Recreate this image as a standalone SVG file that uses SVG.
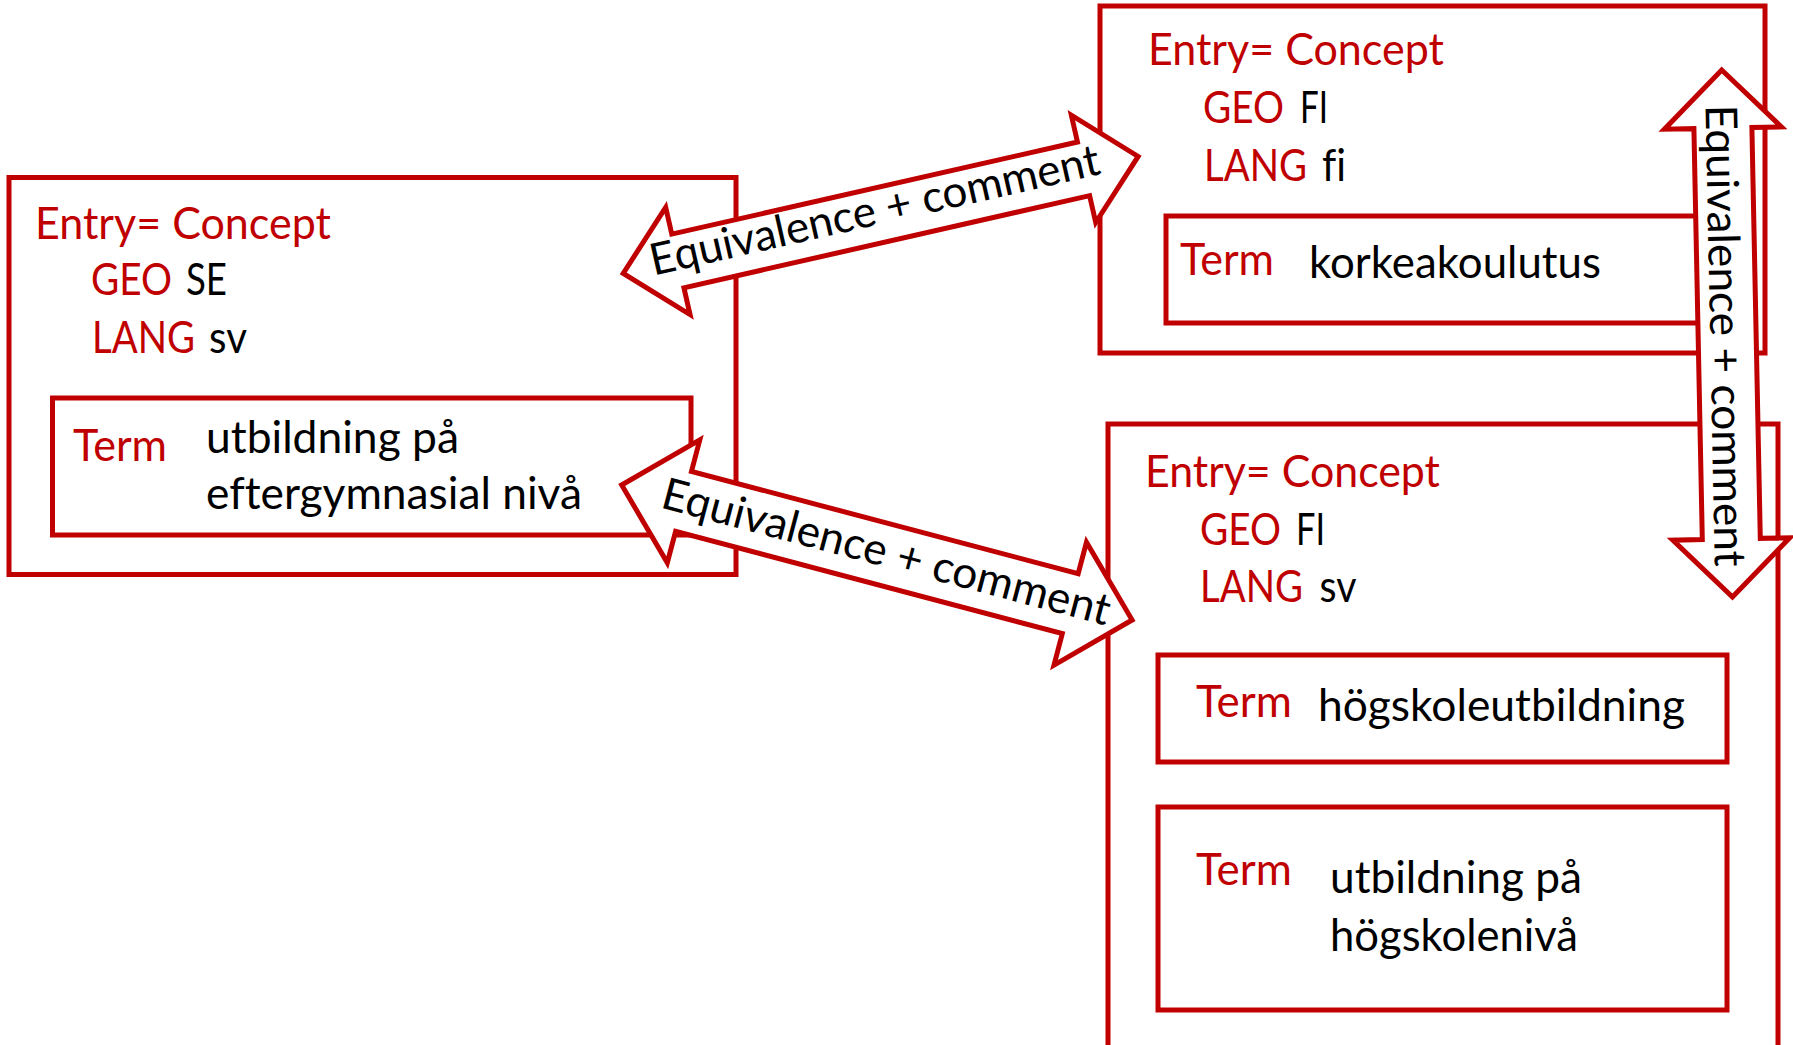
<svg xmlns="http://www.w3.org/2000/svg" width="1793" height="1045" viewBox="0 0 1793 1045">
<style>
  .box { fill: none; stroke: #C00000; stroke-width: 5; }
  .arrow { fill: #FFFFFF; stroke: #C00000; stroke-width: 5; stroke-linejoin: miter; }
  text { font-family: Lato, "Liberation Sans", sans-serif; font-size: 44px; font-variant-ligatures: none; }
  .lbl { fill: #C00000; }
  .val { fill: #000000; }
</style>
<rect width="1793" height="1045" fill="#FFFFFF"/>

<g id="node-se">
  <rect class="box" x="9" y="177.5" width="727" height="397"/>
  <text class="lbl" x="35" y="239" textLength="296" lengthAdjust="spacingAndGlyphs">Entry= Concept</text>
  <text class="lbl" x="91" y="295" textLength="81" lengthAdjust="spacingAndGlyphs">GEO</text>
  <text class="val" x="186" y="295" textLength="41" lengthAdjust="spacingAndGlyphs">SE</text>
  <text class="lbl" x="92" y="353" textLength="103" lengthAdjust="spacingAndGlyphs">LANG</text>
  <text class="val" x="209" y="353" textLength="38" lengthAdjust="spacingAndGlyphs">sv</text>
  <g id="term-se">
    <rect class="box" x="52.5" y="398" width="638.5" height="137"/>
    <text class="lbl" x="73" y="461" textLength="94" lengthAdjust="spacingAndGlyphs">Term</text>
    <text class="val" x="206" y="453" textLength="253" lengthAdjust="spacingAndGlyphs">utbildning på</text>
    <text class="val" x="206" y="509" textLength="376" lengthAdjust="spacingAndGlyphs">eftergymnasial nivå</text>
  </g>
</g>

<g id="node-fi-fi">
  <rect class="box" x="1100" y="6" width="665" height="347"/>
  <text class="lbl" x="1148" y="65" textLength="296" lengthAdjust="spacingAndGlyphs">Entry= Concept</text>
  <text class="lbl" x="1203" y="123" textLength="81" lengthAdjust="spacingAndGlyphs">GEO</text>
  <text class="val" x="1300" y="123" textLength="28" lengthAdjust="spacingAndGlyphs">FI</text>
  <text class="lbl" x="1204" y="181" textLength="103" lengthAdjust="spacingAndGlyphs">LANG</text>
  <text class="val" x="1322" y="181" textLength="24" lengthAdjust="spacingAndGlyphs">fi</text>
  <g id="term-fi">
    <rect class="box" x="1166" y="216" width="556" height="107"/>
    <text class="lbl" x="1180" y="275" textLength="94" lengthAdjust="spacingAndGlyphs">Term</text>
    <text class="val" x="1309" y="278" textLength="292" lengthAdjust="spacingAndGlyphs">korkeakoulutus</text>
  </g>
</g>

<g id="node-fi-sv">
  <rect class="box" x="1108" y="424" width="670" height="640"/>
  <text class="lbl" x="1145" y="487" textLength="295" lengthAdjust="spacingAndGlyphs">Entry= Concept</text>
  <text class="lbl" x="1200" y="545" textLength="81" lengthAdjust="spacingAndGlyphs">GEO</text>
  <text class="val" x="1296" y="545" textLength="29" lengthAdjust="spacingAndGlyphs">FI</text>
  <text class="lbl" x="1200" y="601.5" textLength="103" lengthAdjust="spacingAndGlyphs">LANG</text>
  <text class="val" x="1319.5" y="601.5" textLength="37" lengthAdjust="spacingAndGlyphs">sv</text>
  <g id="term-fi-sv-1">
    <rect class="box" x="1158" y="655" width="569" height="107"/>
    <text class="lbl" x="1196" y="717" textLength="96" lengthAdjust="spacingAndGlyphs">Term</text>
    <text class="val" x="1318" y="721" textLength="367" lengthAdjust="spacingAndGlyphs">högskoleutbildning</text>
  </g>
  <g id="term-fi-sv-2">
    <rect class="box" x="1158" y="807" width="569" height="203"/>
    <text class="lbl" x="1196" y="885" textLength="96" lengthAdjust="spacingAndGlyphs">Term</text>
    <text class="val" x="1330" y="893" textLength="252" lengthAdjust="spacingAndGlyphs">utbildning på</text>
    <text class="val" x="1330" y="951" textLength="248" lengthAdjust="spacingAndGlyphs">högskolenivå</text>
  </g>
</g>

<g id="connectors">
  <g id="eq-se-fi" transform="translate(880.7,214.9) rotate(-12.79)">
    <polygon class="arrow" points="-264,0 -208,-55 -208,-27.5 208,-27.5 208,-55 264,0 208,55 208,27.5 -208,27.5 -208,55"/>
    <text class="val" x="-5" y="9" text-anchor="middle" textLength="460" lengthAdjust="spacingAndGlyphs">Equivalence + comment</text>
  </g>
  <g id="eq-se-fisv" transform="translate(876.9,552.5) rotate(14.82)">
    <polygon class="arrow" points="-264,0 -200,-63.5 -200,-31 200,-31 200,-63.5 264,0 200,63.5 200,31 -200,31 -200,63.5"/>
    <text class="val" x="9" y="12" text-anchor="middle" textLength="462" lengthAdjust="spacingAndGlyphs">Equivalence + comment</text>
  </g>
  <g id="eq-fi-fisv" transform="translate(1727.1,333.5) rotate(88.83)">
    <polygon class="arrow" points="-263.5,0 -205.5,-58.5 -205.5,-29 205.5,-29 205.5,-58.5 263.5,0 205.5,58.5 205.5,29 -205.5,29 -205.5,58.5"/>
    <text class="val" x="2" y="17" text-anchor="middle" textLength="462" lengthAdjust="spacingAndGlyphs">Equivalence + comment</text>
  </g>
</g>
</svg>
